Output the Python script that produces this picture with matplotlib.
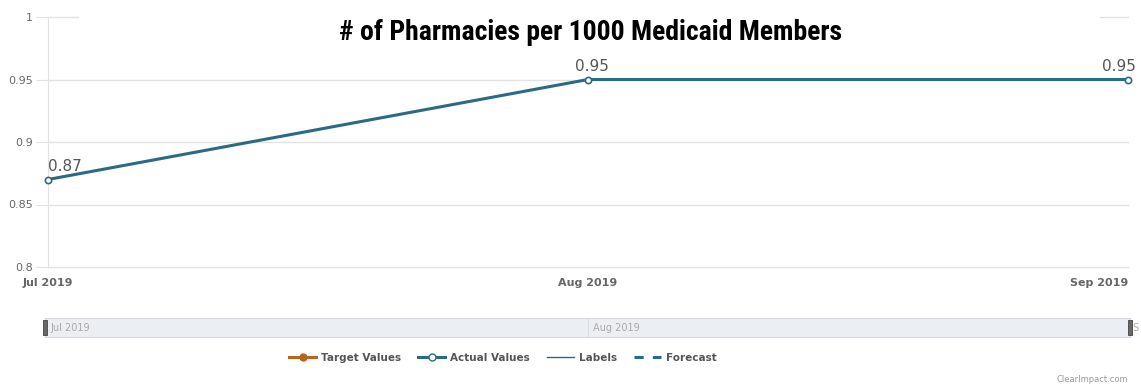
import matplotlib.pyplot as plt
from matplotlib.lines import Line2D
from matplotlib.patches import Rectangle

months = ['Jul 2019', 'Aug 2019', 'Sep 2019']
actual_values = [0.87, 0.95, 0.95]
value_labels = ['0.87', '0.95', '0.95']
y_ticks = [0.8, 0.85, 0.9, 0.95, 1.0]
y_tick_labels = ['0.8', '0.85', '0.9', '0.95', '1']

W, H = 1141, 390
line_color = '#2a6b83'
target_color = '#b5651d'
grid_color = '#e2e2e2'
text_gray = '#666666'

fig = plt.figure(figsize=(W / 100, H / 100), dpi=100)

def px_axes(x0, y0, x1, y1):
    # pixel box (top-left origin) -> figure axes
    return fig.add_axes([x0 / W, 1 - y1 / H, (x1 - x0) / W, (y1 - y0) / H])

ax = px_axes(48, 17, 1128, 267)
x = list(range(len(months)))
ax.set_xlim(0, len(months) - 1)
ax.set_ylim(0.8, 1.0)

for yv in y_ticks[:-1]:
    ax.axhline(yv, color=grid_color, lw=1, zorder=0, clip_on=False)
# top gridline is hidden behind the title except at the ends
ax.axhline(1.0, xmin=0, xmax=0.028, color=grid_color, lw=1, zorder=0, clip_on=False)
ax.axhline(1.0, xmin=0.974, xmax=1, color=grid_color, lw=1, zorder=0, clip_on=False)

ax.plot(x, actual_values, color=line_color, lw=2.2, zorder=3,
        marker='o', markersize=4.5, markerfacecolor='white',
        markeredgecolor=line_color, markeredgewidth=1.2, clip_on=False)

for i, (xv, yv, lab) in enumerate(zip(x, actual_values, value_labels)):
    if i == 0:
        ha, dx = 'left', 0
    elif i == len(x) - 1:
        ha, dx = 'right', 6
    else:
        ha, dx = 'center', 3
    ax.annotate(lab, (xv, yv), xytext=(dx, 4), textcoords='offset points',
                ha=ha, va='bottom', fontsize=11, color='#555555', zorder=4)

for s in ['top', 'right', 'bottom']:
    ax.spines[s].set_visible(False)
ax.spines['left'].set_color(grid_color)
ax.set_yticks(y_ticks)
ax.set_yticklabels(y_tick_labels, fontsize=8, color=text_gray)
ax.tick_params(axis='y', length=9, color=grid_color, pad=2)
ax.set_xticks(x)
ax.set_xticklabels(months, fontsize=8, color=text_gray, fontweight='bold')
ax.tick_params(axis='x', length=0, pad=8)
xt = ax.get_xticklabels()
xt[-1].set_horizontalalignment('right')

fig.text(591 / W, 1 - 32 / H, '# of Pharmacies per 1000 Medicaid Members',
         ha='center', va='center', fontsize=20, fontweight='bold',
         family=['Roboto Condensed', 'Oswald', 'Archivo Narrow', 'DejaVu Sans'],
         color='black')

# navigator
nav = px_axes(45, 318, 1130, 337)
nav.set_xlim(0, len(months) - 1)
nav.set_ylim(0, 1)
nav.set_facecolor('#ebeff3')
for s in nav.spines.values():
    s.set_color('#d5d9dd')
    s.set_linewidth(0.8)
nav.set_xticks([])
nav.set_yticks([])
nav.axvline(1, color='#d9dde1', lw=0.8)
for i, m in enumerate(months[:2]):
    nav.text(i + 0.01, 0.45, m, fontsize=7, color='#aaaaaa', va='center', ha='left')
nav.text(len(months) - 1 + 0.005, 0.45, months[-1][0], fontsize=7, color='#aaaaaa',
         va='center', ha='left', clip_on=False)
for hx in [0, len(months) - 1]:
    nav.add_patch(Rectangle((hx - 0.003, 0.1), 0.006, 0.8, facecolor='#666666',
                            edgecolor='#444444', lw=0.6, clip_on=False, zorder=5))

handles = [
    Line2D([], [], color=target_color, lw=2.2, marker='o', markersize=5,
           markerfacecolor=target_color, markeredgecolor=target_color),
    Line2D([], [], color=line_color, lw=2.2, marker='o', markersize=5,
           markerfacecolor='white', markeredgecolor=line_color),
    Line2D([], [], color=line_color, lw=1),
    Line2D([], [], color=line_color, lw=2.2, ls=(0, (3, 3))),
]
fig.legend(handles, ['Target Values', 'Actual Values', 'Labels', 'Forecast'],
           loc='center', bbox_to_anchor=(503 / W, 1 - 358 / H), ncol=4,
           frameon=False, handlelength=2.6, columnspacing=1.6,
           handletextpad=0.5, labelcolor='#555555',
           prop={'weight': 'bold', 'size': 7.5})

fig.text(1128 / W, 1 - 380 / H, 'ClearImpact.com', ha='right', va='center',
         fontsize=6, color='#999999')

fig.savefig('out.png', dpi=100)
